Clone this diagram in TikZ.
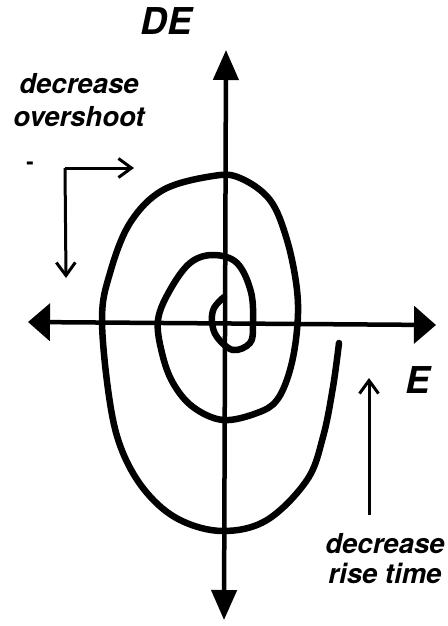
\documentclass[tikz,border=0pt]{standalone}
\usepackage{fontspec}
\setmainfont{TeX Gyre Heros}
\usetikzlibrary{arrows.meta}

\tikzset{
  axisline/.style={line width=4.5pt},
  spiralline/.style={line width=6.5pt, line cap=round, line join=round},
  hintarrow/.style={line width=3pt, -{Straight Barb[length=13pt,width=19pt,line width=3pt]}},
  bigtip/.style={font=\fontsize{37}{37}\selectfont\bfseries\itshape, inner sep=0pt},
  hinttext/.style={font=\fontsize{27.5}{33}\selectfont\bfseries\itshape, align=center, inner sep=0pt}
}

\begin{document}
\begin{tikzpicture}[x=1pt, y=-1pt]
  \useasboundingbox (0,0) rectangle (447,626);

  % axes
  \coordinate (yTop) at (226,50);
  \coordinate (yBot) at (224,620);
  \coordinate (xLeft) at (28,322);
  \coordinate (xRight) at (436,325);
  \draw[axisline, {Triangle[length=30pt,width=25pt]}-{Triangle[length=30pt,width=25pt]}] (yBot) -- (yTop);
  \draw[axisline, {Triangle[length=22pt,width=37pt]}-{Triangle[length=22pt,width=37pt]}] (xLeft) -- (xRight);

  % phase plane trajectory
  \draw[spiralline] plot[smooth, tension=0.6] coordinates {
    (224,297) (214,308) (212,322) (217,337) (233,350) (250,343) (253,325)
    (251,292) (237,263) (213,255) (190,263) (170,290) (158,320) (162,353)
    (173,383) (193,407) (223,420) (257,413) (277,400) (290,370) (297,330)
    (297,290) (287,240) (270,200) (240,178) (213,176) (163,190) (130,223)
    (110,273) (102,320) (110,403) (123,453) (147,493) (180,520) (223,531)
    (267,520) (307,480) (323,437) (333,387) (339,343)};

  % axis labels
  \node[bigtip] (lblDE) at (166,21) {DE};
  \node[bigtip] (lblE) at (418,380) {E};

  % overshoot hint
  \node[hinttext] (lblOver) at (79,100) {decrease\\overshoot};
  \node[font=\fontsize{22}{22}\selectfont\bfseries, inner sep=0pt] (stray) at (30,166) {-};
  \coordinate (knee) at (65,168);
  \coordinate (overRight) at (134,168);
  \coordinate (overDown) at (66,278);
  \draw[hintarrow] (knee) -- (overRight);
  \draw[hintarrow] (knee) -- (overDown);

  % rise time hint
  \node[hinttext, font=\fontsize{27.5}{30}\selectfont\bfseries\itshape] (lblRise) at (385,559) {decrease\\rise time};
  \coordinate (riseFoot) at (369,515);
  \coordinate (riseTip) at (369,378);
  \draw[hintarrow] (riseFoot) -- (riseTip);
\end{tikzpicture}
\end{document}
